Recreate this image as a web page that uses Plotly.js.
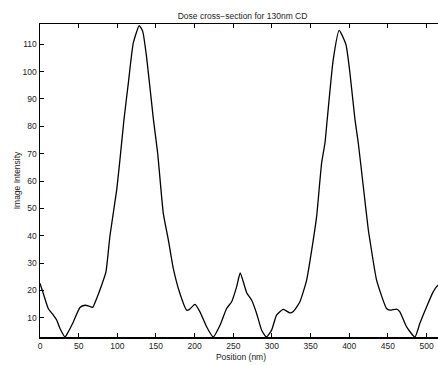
<!DOCTYPE html>
<html>
<head>
<meta charset="utf-8">
<script src="https://cdn.plot.ly/plotly-3.0.1.min.js"></script>
<style>
html, body { margin: 0; padding: 0; overflow: hidden; background: #fff; }
#chart { width: 445px; height: 365px; }
</style>
</head>
<body>
<div id="chart"></div>
<script>
var position = [0, 4.3, 10.7, 17.2, 21.6, 25.9, 32.3, 36.6, 43.1, 51.7, 58.2, 62.5, 68.1, 73.3, 79.8, 85.3, 90.5, 99.2, 103.4, 108.6, 114.3, 120.7, 128.4, 132.8, 138, 146.6, 152.2, 159.5, 166, 172.4, 181, 189.7, 193, 200.4, 206.9, 215.6, 224.1, 232.8, 241.4, 247.9, 254.4, 259, 267.3, 273.7, 280.2, 286.7, 292.8, 299.6, 306, 314.7, 323.3, 327.6, 336.2, 344.9, 353.5, 357.8, 364.3, 368.6, 371.5, 379.3, 387, 395.7, 400.9, 407.3, 411.7, 418.2, 424.7, 426.7, 435.4, 448.3, 452.6, 461.3, 465.5, 474.2, 484.9, 491.4, 500, 508.6, 513, 520];
var intensity = [22.6, 18.9, 13.4, 11, 9.2, 6.1, 3.0, 4.9, 8.5, 13.8, 14.6, 14.4, 13.8, 17.1, 22, 26.8, 40, 56.8, 67.8, 82.4, 95.9, 110.5, 116.8, 114.8, 105, 82.8, 70.2, 48.2, 38.5, 28.1, 18.9, 12.8, 13, 14.9, 12.2, 6.7, 3.0, 7.3, 13.4, 15.9, 21.4, 26.4, 19.2, 16.5, 11.6, 5.5, 3.0, 5.5, 11, 13.1, 11.8, 12.3, 15.9, 23.8, 38.5, 47, 66.6, 73.9, 82.4, 104.4, 115.1, 109.9, 99.5, 82.8, 73.9, 58, 42.1, 38.5, 23.8, 13.4, 12.8, 13.2, 12.2, 6.7, 3.0, 8, 14, 19.5, 21.4, 23];
var xTicks = [0, 50, 100, 150, 200, 250, 300, 350, 400, 450, 500];
var yTicks = [10, 20, 30, 40, 50, 60, 70, 80, 90, 100, 110];

var font = {family: 'Liberation Sans, Arial, Helvetica, sans-serif', size: 8.5, color: '#222'};

Plotly.newPlot('chart', [{
  x: position,
  y: intensity,
  type: 'scatter',
  mode: 'lines',
  line: {color: '#000', width: 1.3, shape: 'spline', smoothing: 0.5},
  hoverinfo: 'skip'
}], {
  width: 445,
  height: 365,
  margin: {l: 40, r: 3, t: 24, b: 28},
  paper_bgcolor: '#fff',
  plot_bgcolor: '#fff',
  font: font,
  showlegend: false,
  title: {text: 'Dose cross\u2212section for 130nm CD', font: font, x: 0.545, xanchor: 'center', y: 0.957, yanchor: 'middle'},
  xaxis: {
    range: [0, 520],
    tickvals: xTicks,
    ticktext: xTicks.map(String),
    ticks: 'inside', ticklen: 4, tickwidth: 1, tickcolor: '#000',
    showline: true, linecolor: '#000', linewidth: 1.5, mirror: 'ticks',
    showgrid: false, zeroline: false,
    tickfont: font,
    title: {text: 'Position (nm)', font: font, standoff: 4}
  },
  yaxis: {
    range: [3, 117.4],
    tickvals: yTicks,
    ticktext: yTicks.map(String),
    ticks: 'inside', ticklen: 4, tickwidth: 1, tickcolor: '#000',
    showline: true, linecolor: '#000', linewidth: 1.5, mirror: 'ticks',
    showgrid: false, zeroline: false,
    tickfont: font,
    title: {text: 'Image Intensity', font: font, standoff: 0}
  }
}, {staticPlot: true, displayModeBar: false});
</script>
</body>
</html>
